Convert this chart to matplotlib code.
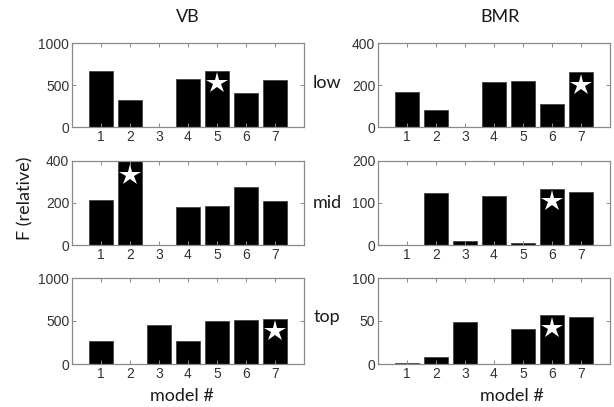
import matplotlib
matplotlib.use("Agg")
import matplotlib.pyplot as plt

models = [1, 2, 3, 4, 5, 6, 7]
rows = ["low", "mid", "top"]
columns = ["VB", "BMR"]

vb_low = [665, 323, 0, 567, 665, 409, 559]
vb_mid = [214, 400, 0, 181, 184, 277, 211]
vb_top = [267, 0, 450, 267, 496, 508, 523]
bmr_low = [168, 80, 0, 216, 219, 110, 260]
bmr_mid = [0, 124, 10, 117, 5.5, 134, 127]
bmr_top = [1.5, 8.5, 48.4, 0, 40.3, 56.6, 54.3]

vb_ymax = [1000, 400, 1000]
bmr_ymax = [400, 200, 100]

# best model (star): model number and star height
vb_star = [(5, 520), (2, 332), (7, 384)]
bmr_star = [(7, 200), (6, 105), (6, 42)]

data = {"VB": [vb_low, vb_mid, vb_top], "BMR": [bmr_low, bmr_mid, bmr_top]}
ymaxes = {"VB": vb_ymax, "BMR": bmr_ymax}
stars = {"VB": vb_star, "BMR": bmr_star}

W, H = 614, 407
fig = plt.figure(figsize=(W / 100, H / 100), dpi=100)

col_left = {"VB": 72, "BMR": 378}
row_px = [(43, 127), (161, 245), (278, 364)]
ax_w = 232

label_font = "Lato"
tick_color = "#333333"
spine_color = "#8a8a8a"
text_color = "#1a1a1a"

for c in columns:
    for r in range(3):
        top, bot = row_px[r]
        ax = fig.add_axes([col_left[c] / W, 1 - bot / H, ax_w / W, (bot - top) / H])
        vals = data[c][r]
        ax.bar(models, vals, width=0.8, color="black", edgecolor="#444444", linewidth=0.6)
        sx, sy = stars[c][r]
        ax.plot([sx], [sy], marker="*", color="white", markersize=16, markeredgewidth=0, linestyle="none")
        ymax = ymaxes[c][r]
        ax.set_xlim(0, 8)
        ax.set_ylim(0, ymax)
        ax.set_xticks(models)
        ax.set_yticks([0, ymax / 2, ymax])
        ax.set_yticklabels([f"{int(v)}" for v in [0, ymax / 2, ymax]])
        ax.tick_params(direction="in", top=True, right=True, length=3, width=0.7,
                       colors=spine_color, labelcolor=tick_color, labelsize=10, pad=2)
        for s in ax.spines.values():
            s.set_color(spine_color)
            s.set_linewidth(0.9)
        for lab in ax.get_xticklabels() + ax.get_yticklabels():
            lab.set_fontfamily("Liberation Sans")

# column titles
fig.text(188 / W, 1 - 17 / H, "VB", ha="center", va="center", fontsize=13, family=label_font, color=text_color)
fig.text(500 / W, 1 - 17 / H, "BMR", ha="center", va="center", fontsize=13, family=label_font, color=text_color)
# row labels
for name, y in zip(rows, [83, 203, 317]):
    fig.text(327 / W, 1 - y / H, name, ha="center", va="center", fontsize=13, family=label_font, color=text_color)
# axis labels
fig.text(25 / W, 1 - 198 / H, "F (relative)", ha="center", va="center", rotation=90,
         fontsize=13, family=label_font, color=text_color)
fig.text(182 / W, 1 - 396 / H, "model #", ha="center", va="center", fontsize=13, family=label_font, color=text_color)
fig.text(512 / W, 1 - 396 / H, "model #", ha="center", va="center", fontsize=13, family=label_font, color=text_color)

fig.savefig("out.png", dpi=100, facecolor="white")
